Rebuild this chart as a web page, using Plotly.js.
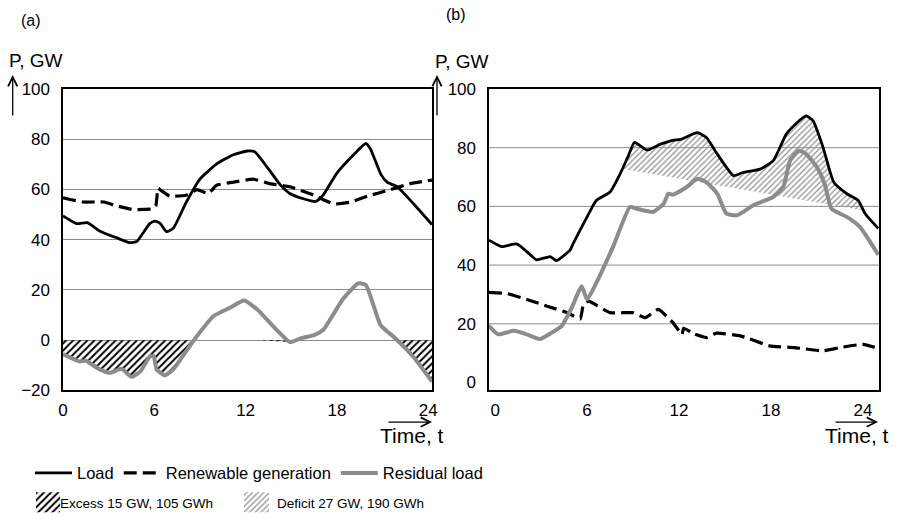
<!DOCTYPE html>
<html><head><meta charset="utf-8">
<script src="https://cdn.plot.ly/plotly-3.0.1.min.js"></script>
<style>html,body{margin:0;padding:0;background:#fff}#chart{width:897px;height:518px}</style>
</head><body><div id="chart"></div>
<script>
// ---------- Panel (a) data ----------
const loadA_t = [0, 0.9, 1.6, 2.4, 3.5, 4.4, 4.85, 5.7, 6.05, 6.4, 6.8, 7.25, 8.1, 9.0, 10.1, 11.2, 12.1, 12.6, 13.4, 14.3, 14.9, 15.8, 16.6, 17.1, 18.0, 19.1, 19.9, 20.2, 20.9, 21.3, 21.95, 23.05, 24.25];
const loadA_v = [49.5, 46.4, 46.8, 43.5, 40.8, 38.8, 39.3, 46.4, 47.4, 46.4, 43.2, 44.6, 54.9, 64.1, 70.2, 73.8, 75.3, 75, 69, 61.7, 58.4, 56.3, 55.2, 57.8, 66.5, 73.8, 78.3, 76.2, 65.9, 62.9, 61.1, 54.2, 46];
const renA_t = [0, 1.3, 2.7, 3.5, 4.6, 5.9, 6.1, 6.25, 6.4, 7.0, 8.1, 8.8, 9.55, 10.1, 11.2, 12.5, 13.6, 14.9, 16.5, 17.8, 18.9, 20.0, 21.5, 22.8, 24.25];
const renA_v = [56.7, 55, 55, 53.5, 52, 52.3, 53.5, 60.5, 59.8, 57.4, 57.7, 59.9, 58.4, 61.7, 62.9, 64.1, 62.3, 61.1, 57.7, 54.2, 55, 57.3, 59.9, 62.3, 63.7];
const resA_t = [0, 1.1, 1.5, 2.4, 3.1, 3.85, 4.5, 5.1, 5.7, 5.95, 6.15, 6.7, 7.25, 8.6, 9.9, 11.0, 11.9, 12.75, 14.9, 15.6, 16.5, 17.1, 18.4, 19.4, 19.9, 20.85, 21.3, 21.8, 23.05, 24.25];
const resA_v = [-5.5, -8.5, -8.2, -11.6, -13, -11.4, -14.6, -12.3, -6.6, -6.2, -11.6, -14, -11.6, 0, 9.6, 13, 15.8, 12.3, -0.7, 0.7, 2, 4.1, 16.4, 22.6, 22, 6.2, 3.5, 1, -6.8, -16.5];

// ---------- Panel (b) data ----------
const loadB_t = [-0.4, 0.43, 1.4, 2.3, 2.7, 3.6, 4.0, 4.9, 5.1, 6.0, 6.6, 7.5, 8.15, 8.7, 9.1, 9.9, 10.8, 11.6, 12.1, 13.2, 13.8, 14.5, 15.55, 16.2, 17.3, 18.15, 19.0, 19.7, 20.3, 20.75, 21.4, 22.1, 22.95, 23.7, 24.15, 25.0];
const loadB_v = [48.5, 46.3, 47.2, 43.5, 41.8, 42.9, 41.5, 45.2, 47.4, 56.4, 62, 64.9, 71, 77.3, 81.8, 79.2, 81.2, 82.5, 82.8, 85.1, 83.4, 77.8, 70.5, 71.6, 72.7, 75.6, 84.6, 88.5, 90.8, 89.1, 80.1, 68.2, 64.3, 62, 57.5, 52.5];
const renB_t = [-0.4, 0.76, 2.07, 3.4, 4.7, 5.55, 5.76, 6.1, 7.5, 9.0, 9.8, 10.65, 11.6, 12.2, 12.3, 13.0, 13.8, 14.45, 16.0, 17.9, 19.5, 21.4, 22.5, 24.0, 25.05];
const renB_v = [30.7, 30.3, 28.3, 26, 23.8, 21.7, 26.6, 27.7, 23.8, 23.8, 22.1, 24.9, 20.4, 16.4, 18.5, 16.5, 15.3, 16.8, 15.9, 12.5, 11.9, 10.8, 11.9, 13, 11.6];
const resB_t = [-0.4, 0.2, 1.2, 2.07, 2.9, 3.7, 4.35, 5.0, 5.65, 6.0, 6.6, 7.7, 8.8, 9.25, 10.3, 11.0, 11.3, 11.6, 12.5, 13.2, 13.8, 14.5, 15.1, 15.8, 16.85, 18.15, 18.8, 19.25, 19.8, 20.3, 21.0, 21.5, 21.95, 22.95, 23.8, 25.0];
const resB_v = [19.3, 16.4, 17.6, 16.4, 14.8, 17, 19.3, 25.5, 32.8, 28.3, 33.9, 46.3, 59.8, 59.2, 58.1, 60.9, 64.3, 64, 66.6, 69.4, 68.2, 64.3, 57.5, 57, 60.4, 63.2, 66.6, 75.6, 79, 77.8, 73.3, 67.7, 59.2, 56.4, 53, 43.5];
// lower edge of the deficit area
const defBase_t = [8.35, 23.9];
const defBase_v = [72.7, 58.8];

// ---------- labels ----------
const xTicks = [0, 6, 12, 18, 24];
const yTicksA = [-20, 0, 20, 40, 60, 80, 100];
const yTicksB = [0, 20, 40, 60, 80, 100];
const gridB = [20, 40, 60, 80];
const names = {load: 'Load', ren: 'Renewable generation', res: 'Residual load',
  excess: 'Excess 15 GW, 105 GWh', deficit: 'Deficit 27 GW, 190 GWh'};

const FONT = '"Liberation Sans", Arial, sans-serif';
const W = 897, H = 518;
const px = x => x / W, py = y => 1 - y / H;

const excessY = resA_v.map(v => Math.min(v, 0));
const defUp_t = [], defUp_v = [];
loadB_t.forEach((t, i) => { if (t > defBase_t[0] && t < defBase_t[1]) { defUp_t.push(t); defUp_v.push(loadB_v[i]); } });

const LOAD = {color: '#000', width: 2.8, shape: 'spline', smoothing: 0.5};
const REN = {color: '#000', width: 3.2, dash: '13px,6px', shape: 'spline', smoothing: 0.4};
const RES = {color: '#8c8c8c', width: 4, shape: 'spline', smoothing: 0.5};

const traces = [
  {x: resA_t, y: excessY, xaxis: 'x', yaxis: 'y', mode: 'none', fill: 'tozeroy',
   fillcolor: 'rgba(255,255,255,0)', fillpattern: {shape: '/', fgcolor: '#000', bgcolor: 'rgba(255,255,255,0)', size: 5, solidity: 0.4},
   name: names.excess, legend: 'legend2', hoverinfo: 'skip'},
  {x: defBase_t, y: defBase_v, xaxis: 'x2', yaxis: 'y2', mode: 'lines', line: {width: 0},
   showlegend: false, hoverinfo: 'skip'},
  {x: defUp_t, y: defUp_v, xaxis: 'x2', yaxis: 'y2', mode: 'none', fill: 'tonexty',
   fillcolor: 'rgba(255,255,255,0)', fillpattern: {shape: '/', fgcolor: '#8f8f8f', bgcolor: 'rgba(255,255,255,0)', size: 4, solidity: 0.3},
   name: names.deficit, legend: 'legend2', hoverinfo: 'skip'},
  {x: loadA_t, y: loadA_v, xaxis: 'x', yaxis: 'y', mode: 'lines', line: LOAD, name: names.load, legendgroup: 'l', legend: 'legend'},
  {x: renA_t, y: renA_v, xaxis: 'x', yaxis: 'y', mode: 'lines', line: REN, name: names.ren, legendgroup: 'r', legend: 'legend'},
  {x: resA_t, y: resA_v, xaxis: 'x', yaxis: 'y', mode: 'lines', line: RES, name: names.res, legendgroup: 's', legend: 'legend'},
  {x: loadB_t, y: loadB_v, xaxis: 'x2', yaxis: 'y2', mode: 'lines', line: LOAD, name: names.load, legendgroup: 'l', showlegend: false},
  {x: renB_t, y: renB_v, xaxis: 'x2', yaxis: 'y2', mode: 'lines', line: REN, name: names.ren, legendgroup: 'r', showlegend: false},
  {x: resB_t, y: resB_v, xaxis: 'x2', yaxis: 'y2', mode: 'lines', line: RES, name: names.res, legendgroup: 's', showlegend: false}
];

const tickfont = {family: FONT, size: 17, color: '#000'};
const axBase = {showline: true, mirror: true, linecolor: '#000', linewidth: 1.6, ticks: '', zeroline: false, fixedrange: true, tickfont: tickfont};
const yDom = [1 - 395 / H, 1 - 90 / H];

const layout = {
  width: W, height: H, margin: {l: 0, r: 0, t: 0, b: 0},
  paper_bgcolor: '#fff', plot_bgcolor: '#fff', hovermode: false,
  xaxis: Object.assign({}, axBase, {domain: [px(63), px(432)], range: [0, 24.25], tickvals: xTicks, showgrid: false, anchor: 'y', ticklabelstandoff: 4}),
  yaxis: Object.assign({}, axBase, {domain: yDom, range: [-20, 100], tickvals: yTicksA, showgrid: true, gridcolor: '#8c8c8c', gridwidth: 1, anchor: 'x', ticklabelstandoff: 8}),
  xaxis2: Object.assign({}, axBase, {domain: [px(489), px(879)], range: [-0.4, 25.05], tickvals: xTicks, showgrid: false, anchor: 'y2', ticklabelstandoff: 4}),
  yaxis2: Object.assign({}, axBase, {domain: yDom, range: [-2.7, 100], tickvals: yTicksB, showgrid: false, anchor: 'x2', ticklabelstandoff: 8}),
  shapes: gridB.map(v => ({type: 'line', xref: 'x2 domain', yref: 'y2', x0: 0, x1: 1, y0: v, y1: v, layer: 'below', line: {color: '#8c8c8c', width: 1}})),
  legend: {x: px(30), xanchor: 'left', y: py(461), yanchor: 'top', orientation: 'h', itemwidth: 37,
    font: {family: FONT, size: 16.5, color: '#000'}, bgcolor: 'rgba(0,0,0,0)', traceorder: 'normal'},
  legend2: {x: px(20), xanchor: 'left', y: py(493), yanchor: 'top', orientation: 'h', itemwidth: 30,
    entrywidth: 172, entrywidthmode: 'pixels',
    font: {family: FONT, size: 13.5, color: '#000'}, bgcolor: 'rgba(0,0,0,0)', traceorder: 'normal'},
  annotations: [
    {text: '(a)', xref: 'paper', yref: 'paper', x: px(19), y: py(21), xanchor: 'left', yanchor: 'middle', showarrow: false, font: {family: FONT, size: 16, color: '#000'}},
    {text: '(b)', xref: 'paper', yref: 'paper', x: px(444), y: py(15), xanchor: 'left', yanchor: 'middle', showarrow: false, font: {family: FONT, size: 16, color: '#000'}},
    {text: 'P, GW', xref: 'paper', yref: 'paper', x: px(7), y: py(61), xanchor: 'left', yanchor: 'middle', showarrow: false, font: {family: FONT, size: 19, color: '#000'}},
    {text: 'P, GW', xref: 'paper', yref: 'paper', x: px(433), y: py(62), xanchor: 'left', yanchor: 'middle', showarrow: false, font: {family: FONT, size: 19, color: '#000'}},
    {text: '', xref: 'paper', yref: 'paper', x: px(12.7), y: py(76), showarrow: true, ax: 0, ay: 42, arrowhead: 5, arrowsize: 1.4, arrowwidth: 1.3, arrowcolor: '#000', standoff: 0},
    {text: '', xref: 'paper', yref: 'paper', x: px(437), y: py(76), showarrow: true, ax: 0, ay: 42, arrowhead: 5, arrowsize: 1.4, arrowwidth: 1.3, arrowcolor: '#000', standoff: 0},
    {text: 'Time, t', xref: 'paper', yref: 'paper', x: px(412), y: py(441), xanchor: 'center', yanchor: 'middle', showarrow: false, font: {family: FONT, size: 21, color: '#000'}},
    {text: 'Time, t', xref: 'paper', yref: 'paper', x: px(857), y: py(441), xanchor: 'center', yanchor: 'middle', showarrow: false, font: {family: FONT, size: 21, color: '#000'}},
    {text: '', xref: 'paper', yref: 'paper', x: px(432), y: py(427), showarrow: true, ax: -45, ay: 0, arrowhead: 5, arrowsize: 1.4, arrowwidth: 1.3, arrowcolor: '#000', standoff: 0},
    {text: '', xref: 'paper', yref: 'paper', x: px(878), y: py(427), showarrow: true, ax: -44, ay: 0, arrowhead: 5, arrowsize: 1.4, arrowwidth: 1.3, arrowcolor: '#000', standoff: 0}
  ]
};

Plotly.newPlot('chart', traces, layout, {staticPlot: true, displayModeBar: false}).then(gd => {
  // enlarge the hatched legend swatches to boxes like the reference
  const swatch = ['M16,-10h24v20h-24z', 'M7,-10h25v20h-25z'];
  document.querySelectorAll('.legend2 .legendfill path').forEach((p, i) => p.setAttribute('d', swatch[i] || swatch[0]));
});
</script></body></html>
